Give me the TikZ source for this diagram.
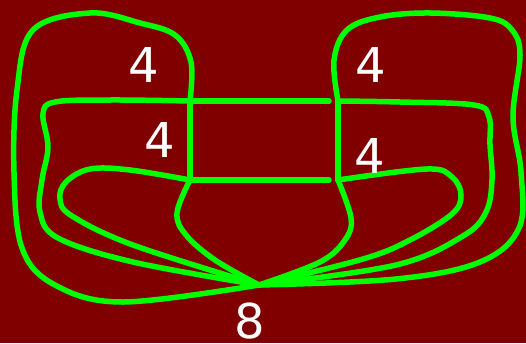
\documentclass[tikz,border=0pt]{standalone}
\usepackage{fontspec}
\setmainfont{DejaVu Sans}
\definecolor{bgred}{RGB}{128,0,0}
\definecolor{lgreen}{RGB}{0,255,0}
\begin{document}
\begin{tikzpicture}[x=1pt,y=-1pt,
  curve/.style={draw=lgreen,line width=5.5pt,line cap=round,line join=round},
  num/.style={text=white,inner sep=0pt,font=\fontsize{48}{56}\selectfont}]
\fill[bgred] (0,0) rectangle (526,343);
\useasboundingbox (0,0) rectangle (526,343);
% junctions
\coordinate (C) at (259,285);
\coordinate (TL) at (190,101);
\coordinate (BL) at (190,180);
\coordinate (TR) at (338,101);
\coordinate (BR) at (338,180);
\coordinate (TE) at (329,101);
\coordinate (BE) at (329,180);
% straight lines
\draw[curve] (TL) -- (BL);
\draw[curve] (TR) -- (BR);
\draw[curve] (TL) -- (TE);
\draw[curve] (BL) -- (BE);
% left side
\draw[curve] plot[smooth,tension=0.6] coordinates {(C) (123,302) (55,285) (22,248) (14,172) (17,90) (33,30) (90,13) (140,23) (175,35) (191,62) (TL)};
\draw[curve] plot[smooth,tension=0.6] coordinates {(TL) (110,100) (55,102) (43,114) (48,147) (42,180) (40,212) (58,238) (133,262) (C)};
\draw[curve] plot[smooth,tension=0.6] coordinates {(BL) (130,170) (90,169) (66,182) (60,199) (72,216) (133,245) (C)};
\draw[curve] plot[smooth,tension=0.6] coordinates {(BL) (177,213) (186,235) (215,260) (C)};
% right side
\draw[curve] plot[smooth,tension=0.6] coordinates {(TR) (334,60) (347,30) (380,17) (430,13) (490,18) (512,30) (520,55) (513,117) (521,172) (519,228) (480,262) (396,279) (C)};
\draw[curve] plot[smooth,tension=0.6] coordinates {(TR) (400,102) (474,105) (489,117) (490,145) (492,180) (486,212) (463,236) (396,265) (C)};
\draw[curve] plot[smooth,tension=0.6] coordinates {(BR) (427,169) (452,177) (461,195) (452,214) (410,240) (363,259) (C)};
\draw[curve] plot[smooth,tension=0.6] coordinates {(BR) (351,218) (345,240) (320,262) (C)};
% labels
\node[num] (a) at (144,65) {4};
\node[num] (b) at (160,140) {4};
\node[num] (c) at (371,65) {4};
\node[num] (d) at (370,156) {4};
\node[num] (e) at (250,321) {8};
\end{tikzpicture}
\end{document}
